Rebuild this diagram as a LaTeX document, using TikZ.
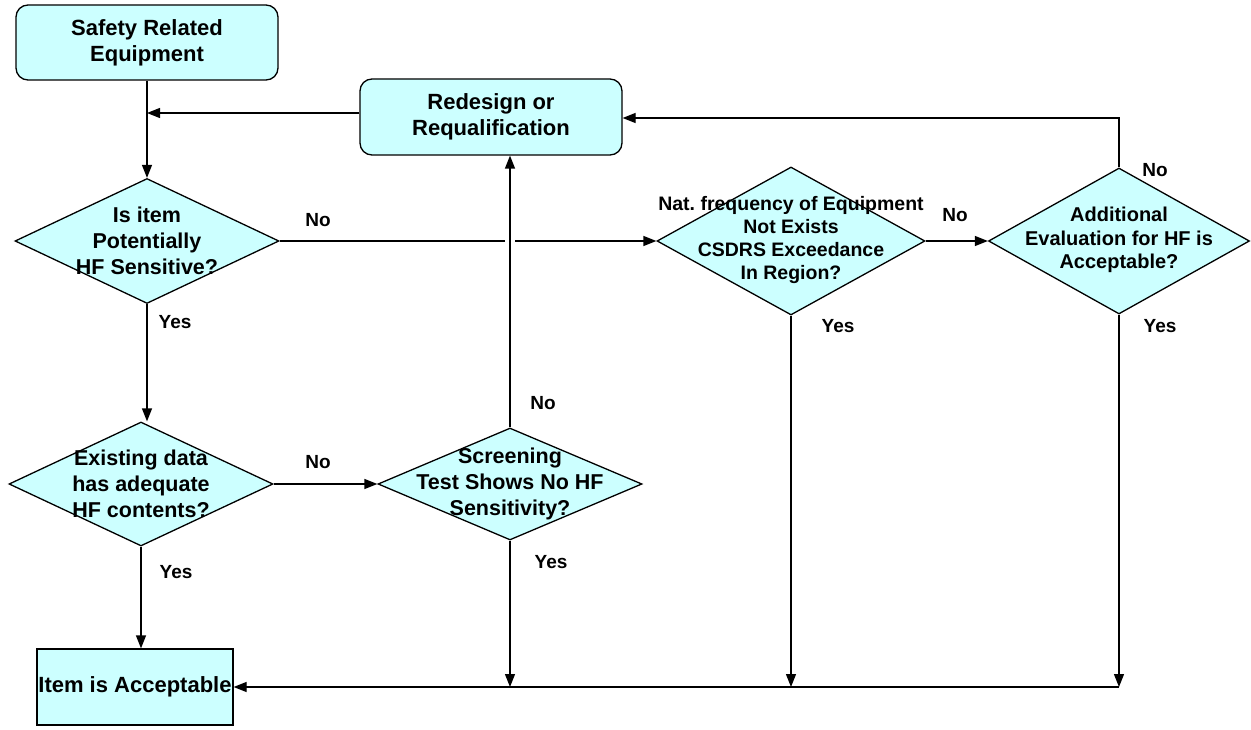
\documentclass[tikz,border=0pt]{standalone}
\usepackage{fontspec}
\setmainfont{Liberation Sans}
\usetikzlibrary{shapes.geometric,arrows.meta}
\definecolor{boxfill}{HTML}{CCFFFF}
\tikzset{
  every picture/.style={x=1pt,y=-1pt},
  shapebox/.style={draw=black, line width=1.3pt, fill=boxfill},
  roundbox/.style={shapebox, rounded corners=12pt, minimum width=262pt, minimum height=75pt, inner sep=0pt},
  plainbox/.style={shapebox, minimum width=196pt, minimum height=76pt, inner sep=0pt},
  decision/.style={shapebox, diamond, inner sep=0pt},
  boxtext/.style={align=center, font=\fontsize{22}{26}\selectfont\bfseries},
  dtext/.style={align=center, inner sep=0pt, font=\fontsize{21.5}{25.8}\selectfont\bfseries},
  lbl/.style={font=\fontsize{19}{22}\selectfont\bfseries, inner sep=0pt},
  conn/.style={line width=1.3pt, draw=black},
  arr/.style={conn, -{Triangle[length=13pt,width=10pt]}},
}
\begin{document}
\begin{tikzpicture}
\useasboundingbox (0,0) rectangle (1251,730);
% shapes
\node[roundbox, boxtext] (safety) at (147,42.5) {Safety Related\\Equipment};
\node[roundbox, boxtext, minimum height=76pt] (redesign) at (491,117) {Redesign or\\Requalification};
\node[decision, minimum width=264pt, minimum height=125pt] (d1) at (147,241) {};
\node[dtext] (d1t) at (d1) {Is item\\Potentially\\HF Sensitive?};
\node[decision, minimum width=264pt, minimum height=124pt] (exist) at (141,484) {};
\node[dtext] (existt) at (exist) {Existing data\\has adequate\\HF contents?};
\node[decision, minimum width=264pt, minimum height=112pt] (screen) at (510,484) {};
\node[dtext] (screent) at (screen) {Screening\\Test Shows No HF\\Sensitivity?};
\node[decision, minimum width=268pt, minimum height=148pt] (nat) at (791,241) {};
\node[dtext, font=\fontsize{19.5}{22.8}\selectfont\bfseries] (natt) at ([yshift=1]nat.center) {Nat.\ frequency of Equipment\\Not Exists\\CSDRS Exceedance\\In Region?};
\node[decision, minimum width=261pt, minimum height=146pt] (add) at (1119,241) {};
\node[dtext, font=\fontsize{20}{23.5}\selectfont\bfseries] (addt) at ([yshift=1]add.center) {Additional\\Evaluation for HF is\\Acceptable?};
\node[plainbox, boxtext] (item) at (135,687) {Item is Acceptable};
% connectors
\draw[arr] (safety.south) -- (d1.north);
\coordinate (rw) at ([yshift=4]redesign.west);
\draw[arr] (rw) -- (safety.south |- rw);
\coordinate (gapL) at ([xshift=-5]screen.north |- d1.east);
\coordinate (gapR) at ([xshift=5]screen.north |- d1.east);
\draw[conn] (d1.east) -- (gapL);
\draw[arr] (gapR) -- (nat.west);
\draw[arr] (d1.south) -- (d1.south |- exist.north);
\draw[arr] (exist.east) -- (screen.west);
\draw[arr] (screen.north) -- (screen.north |- redesign.south);
\coordinate (bS) at (screen.south |- item.east);
\coordinate (bN) at (nat.south |- item.east);
\coordinate (bA) at (add.south |- item.east);
\draw[arr] (screen.south) -- (bS);
\draw[arr] (exist.south) -- (exist.south |- item.north);
\draw[arr] (nat.east) -- (add.west);
\draw[arr] (nat.south) -- (bN);
\draw[arr] (add.south) -- (bA);
\coordinate (re) at ([yshift=-1]redesign.east);
\draw[arr] (add.north) -- (add.north |- re) -- (re);
\draw[arr] (bA) -- (item.east);
% labels
\node[lbl] (l1) at (318,220) {No};
\node[lbl] (l2) at (175,322) {Yes};
\node[lbl] (l3) at (318,462) {No};
\node[lbl] (l4) at (543,403) {No};
\node[lbl] (l5) at (551,562) {Yes};
\node[lbl] (l6) at (176,572) {Yes};
\node[lbl] (l7) at (955,215) {No};
\node[lbl] (l8) at (838,326) {Yes};
\node[lbl] (l9) at (1160,326) {Yes};
\node[lbl] (l10) at (1155,170) {No};
\end{tikzpicture}
\end{document}
